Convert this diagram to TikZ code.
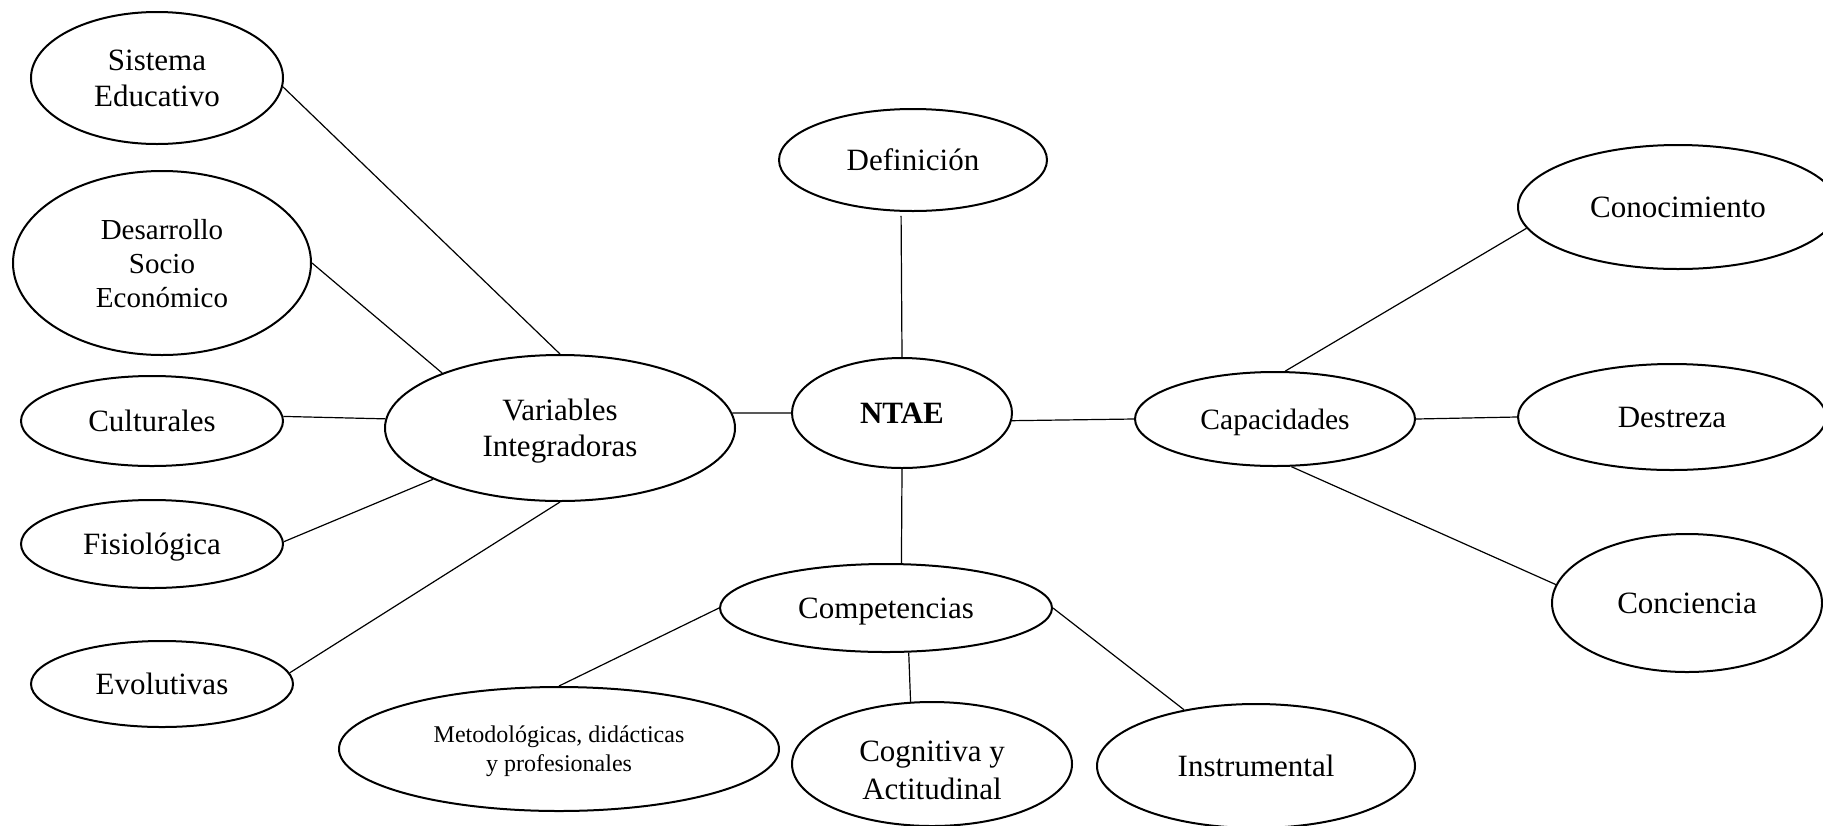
\documentclass[tikz,border=0pt]{standalone}
\usepackage{fontspec}
\setmainfont{Liberation Serif}
\usetikzlibrary{shapes.geometric}
\begin{document}
\begin{tikzpicture}[x=0.5pt,y=-0.5pt,
  ell/.style={ellipse,draw,line width=1pt,inner sep=0pt,align=center,text depth=0pt,font=\fontsize{15.5}{18}\selectfont},
  link/.style={line width=0.6pt}]
\useasboundingbox (0,0) rectangle (1823,825);
\clip (0,0) rectangle (1823,825);
\fill[white] (0,0) rectangle (1823,825);
% left group
\node[ell,minimum width=126pt,minimum height=66pt] (sis) at (157,78) {Sistema\\Educativo};
\node[ell,minimum width=149pt,minimum height=92pt,font=\fontsize{14.5}{17}\selectfont] (dse) at (162,263) {Desarrollo\\Socio\\Económico};
\node[ell,minimum width=131pt,minimum height=45pt] (cul) at (152,421) {Culturales};
\node[ell,minimum width=131pt,minimum height=44pt] (fis) at (152,544) {Fisiológica};
\node[ell,minimum width=131pt,minimum height=43pt] (evo) at (162,684) {Evolutivas};
\node[ell,minimum width=175pt,minimum height=73pt] (var) at (560,428) {Variables\\Integradoras};
% centre
\node[ell,minimum width=110pt,minimum height=55pt,font=\fontsize{15.5}{18}\selectfont\bfseries] (ntae) at (902,413) {NTAE};
\node[ell,minimum width=134pt,minimum height=51pt] (dfn) at (913,160) {Definición};
% right group
\node[ell,minimum width=140pt,minimum height=47pt,font=\fontsize{14.75}{17}\selectfont] (cap) at (1275,419) {Capacidades};
\node[ell,minimum width=160pt,minimum height=62pt] (cono) at (1678,207) {Conocimiento};
\node[ell,minimum width=154pt,minimum height=53pt] (dest) at (1672,417) {Destreza};
\node[ell,minimum width=135pt,minimum height=69pt] (conc) at (1687,603) {Conciencia};
% bottom group
\node[ell,minimum width=166pt,minimum height=44pt] (comp) at (886,608) {Competencias};
\node[ell,minimum width=220pt,minimum height=62pt,font=\fontsize{12}{14.5}\selectfont] (meto) at (559,749) {Metodológicas, didácticas\\y profesionales};
\node[ell,minimum width=140pt,minimum height=62pt,font=\fontsize{15.5}{19}\selectfont] (cogn) at (932,764) {\rule{0pt}{16.5pt}Cognitiva y\\Actitudinal};
\node[ell,minimum width=159pt,minimum height=62pt] (inst) at (1256,766) {Instrumental};
% connectors
\draw[link] (sis.-4.5) -- (var.north);
\draw[link] (dse.east) -- (var.155.5);
\draw[link] (cul.2) -- (var.177);
\draw[link] (fis.1) -- (var.202);
\draw[link] (evo.5) -- (var.south);
\draw[link] (var.5) -- (ntae.west);
\draw[link,shorten >=2pt] (ntae.north) -- (dfn.-103);
\draw[link] (ntae.south) -- (comp.71);
\draw[link] (ntae.-4) -- (cap.west);
\draw[link] (cap.78) -- (cono.188);
\draw[link] (cap.east) -- (dest.west);
\draw[link] (cap.-71) -- (conc.172);
\draw[link] (comp.west) -- (meto.north);
\draw[link] (comp.-63) -- (cogn.109);
\draw[link] (comp.east) -- (inst.142);
\end{tikzpicture}
\end{document}
